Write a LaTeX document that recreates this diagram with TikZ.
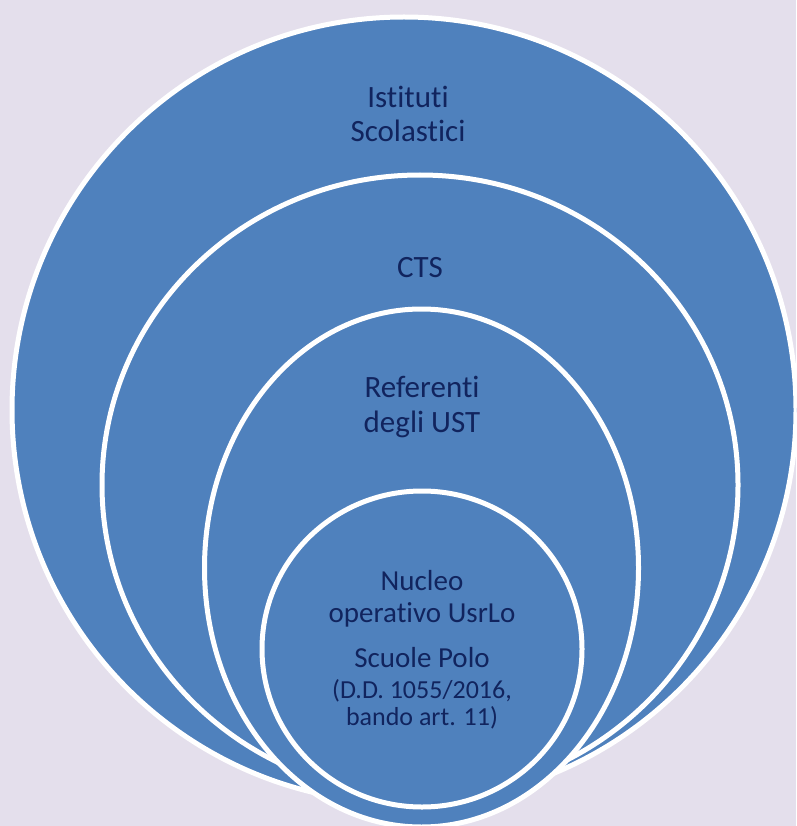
\documentclass[tikz,border=0pt]{standalone}
\usepackage{fontspec}
\setmainfont{Carlito}[Ligatures=NoCommon]
\definecolor{bgc}{RGB}{228,223,236}
\definecolor{ringblue}{RGB}{79,129,189}
\definecolor{txtc}{RGB}{17,36,94}
\tikzset{
  ring/.style={fill=ringblue, draw=white, line width=5pt},
  lbl/.style={text=txtc, align=center, inner sep=0pt, anchor=base},
  big/.style={lbl, font=\fontsize{31}{34}\selectfont},
  mid/.style={lbl, font=\fontsize{29}{32}\selectfont},
  small/.style={lbl, font=\fontsize{26}{27}\selectfont}
}
\begin{document}
\begin{tikzpicture}[x=1pt, y=-1pt]
  \fill[bgc] (0,0) rectangle (796,826);
  \useasboundingbox (0,0) rectangle (796,826);
  \begin{scope}
    \clip (0,0) rectangle (796,826);
    \draw[ring] (404,410) ellipse [x radius=392, y radius=393];
    \draw[ring] (420,485) ellipse [x radius=318, y radius=310];
    \draw[ring] (421.5,568) ellipse [x radius=217, y radius=259];
    \draw[ring] (422,649) ellipse [x radius=160, y radius=158];
  \end{scope}
  \node[big] (ist) at (408,142) {Istituti\\Scolastici};
  \node[big] (cts) at (420,277) {CTS};
  \node[big, font=\fontsize{31}{35}\selectfont] (ref) at (422,432) {Referenti\\degli UST};
  \node[mid] (nuc) at (422,622) {Nucleo\\operativo UsrLo};
  \node[mid] (polo) at (422,667) {Scuole Polo};
  \node[small] (dd) at (422,725) {(D.D. 1055/2016,\\bando art. 11)};
\end{tikzpicture}
\end{document}
